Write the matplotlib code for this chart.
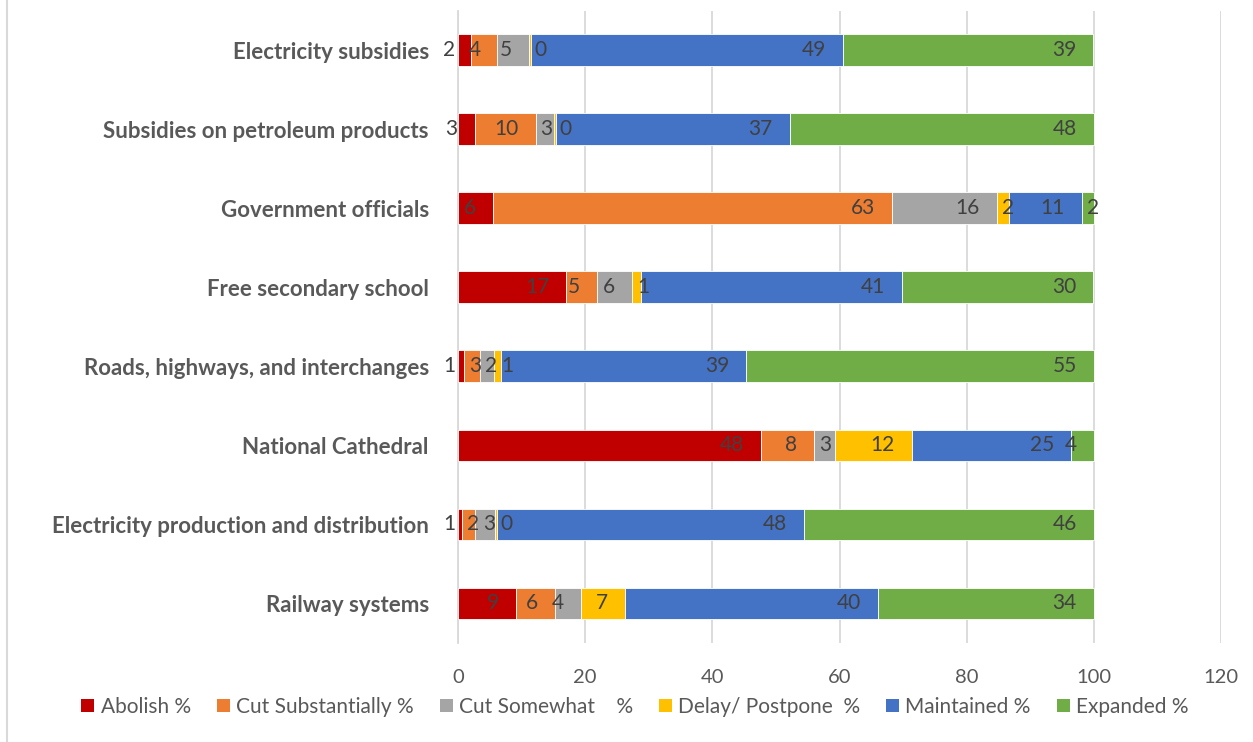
import matplotlib
matplotlib.use("Agg")
import matplotlib.pyplot as plt
from matplotlib.patches import Patch
from matplotlib.lines import Line2D

plt.rcParams['font.family'] = ['Lato', 'DejaVu Sans']

categories = [
    "Electricity subsidies",
    "Subsidies on petroleum products",
    "Government officials",
    "Free secondary school",
    "Roads, highways, and interchanges",
    "National Cathedral",
    "Electricity production and distribution",
    "Railway systems",
]

abolish = [2.1, 2.6, 5.5, 17.0, 0.9, 47.6, 0.6, 9.2]
cut_sub = [4.1, 9.6, 62.8, 4.8, 2.6, 8.4, 2.1, 6.1]
cut_some = [5.0, 2.9, 16.4, 5.6, 2.2, 3.3, 3.1, 4.1]
delay = [0.3, 0.3, 2.0, 1.4, 1.0, 12.1, 0.4, 6.9]
maintained = [49.0, 36.8, 11.4, 41.0, 38.6, 25.0, 48.2, 39.7]
expanded = [39.4, 47.8, 1.9, 30.1, 54.7, 3.6, 45.6, 34.0]

series_names = ["Abolish %", "Cut Substantially %", "Cut Somewhat    %",
                "Delay/ Postpone  %", "Maintained %", "Expanded %"]
series = [abolish, cut_sub, cut_some, delay, maintained, expanded]
colors = ["#C00000", "#ED7D31", "#A5A5A5", "#FFC000", "#4472C4", "#70AD47"]

W, H = 1253, 742
fig = plt.figure(figsize=(W / 100, H / 100), dpi=100)
ax = fig.add_axes([458 / W, 1 - 643 / H, (1221 - 458) / W, (643 - 10.5) / H])

ypos = list(range(len(categories)))
left = [0.0] * len(categories)
for vals, col, name in zip(series, colors, series_names):
    ax.barh(ypos, vals, left=left, height=0.4, color=col,
            edgecolor="white", linewidth=0.6, label=name, zorder=3)
    left = [l + v for l, v in zip(left, vals)]

ax.set_xlim(0, 120)
ax.set_xticks(range(0, 121, 20))
ax.set_ylim(len(categories) - 0.5, -0.5)
ax.set_yticks(ypos)
ax.set_yticklabels(categories, fontweight="bold", fontsize=16, color="#595959")
ax.tick_params(axis="y", length=0, pad=21)
ax.tick_params(axis="x", length=0, pad=18.5, labelsize=14.5, labelcolor="#595959")
ax.xaxis.grid(True, color="#D9D9D9", linewidth=1.3, zorder=0)
for s in ["top", "right", "bottom"]:
    ax.spines[s].set_visible(False)
ax.spines["left"].set_color("#D9D9D9")
ax.spines["left"].set_linewidth(1.3)

# data labels: right-aligned inside the segment end, nudged right when
# they would run into the previous label of the same row
fig.canvas.draw()
renderer = fig.canvas.get_renderer()
ppu = ax.bbox.width / 120.0
for i in ypos:
    start = 0.0
    prev_right = None
    for j, vals in enumerate(series):
        v = vals[i]
        end = start + v
        t = ax.text(end, i, f"{v:.0f}", ha="right", va="center",
                    fontsize=15, color="#404040", zorder=5)
        w = t.get_window_extent(renderer).width / ppu
        right = end - 17 / ppu
        if j == 0:
            right = max(right, -3 / ppu)
        lft = right - w
        if prev_right is not None and lft - prev_right < 10 / ppu:
            lft = max(start + 5 / ppu, prev_right + 4 / ppu)
            right = lft + w
        t.set_x(right)
        prev_right = right
        start = end

handles = [Patch(facecolor=c, edgecolor="none") for c in colors]
fig.legend(handles, series_names, loc="center", bbox_to_anchor=(635 / W, 1 - 707 / H),
           ncol=6, frameon=False, fontsize=15, labelcolor="#595959",
           handlelength=0.62, handleheight=0.62, handletextpad=0.3,
           columnspacing=1.25, borderpad=0)

# outer chart border on the left
fig.add_artist(Line2D([7 / W, 7 / W], [0, 1], transform=fig.transFigure,
                      color="#D9D9D9", linewidth=1.5))

fig.savefig("out.png", dpi=100)
